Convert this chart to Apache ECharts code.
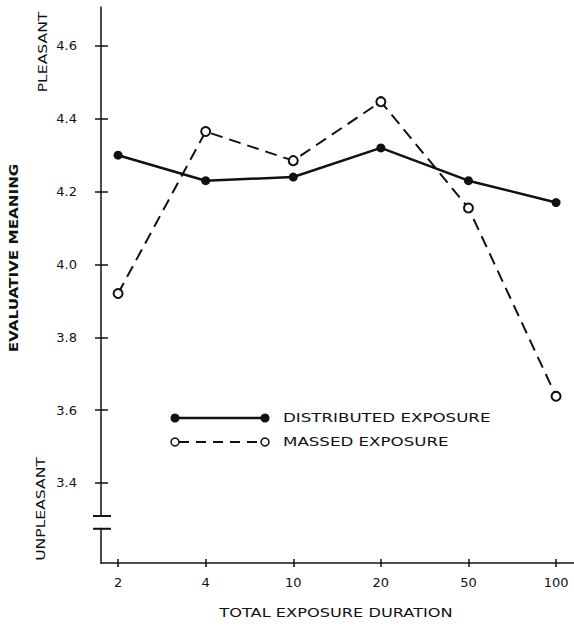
<!DOCTYPE html>
<html><head><meta charset="utf-8">
<script src="https://cdn.jsdelivr.net/npm/echarts@6/dist/echarts.min.js"></script>
<style>html,body{margin:0;padding:0;background:#fff;} #c{width:574px;height:626px;}</style>
</head><body><div id="c"></div>
<script>
const categories = ['2', '4', '10', '20', '50', '100'];
const distributed = [4.30, 4.23, 4.24, 4.32, 4.23, 4.17];
const massed = [3.92, 4.365, 4.285, 4.447, 4.155, 3.638];
const yTicks = [3.4, 3.6, 3.8, 4.0, 4.2, 4.4, 4.6];
const seriesNames = ['DISTRIBUTED EXPOSURE', 'MASSED EXPOSURE'];
const xTitle = 'TOTAL EXPOSURE DURATION';
const yTitle = 'EVALUATIVE MEANING';
const yTopNote = 'PLEASANT';
const yBottomNote = 'UNPLEASANT';

const ink = '#111';
const font = 'DejaVu Sans';
const xIdx = categories.map((_, i) => i);
const X_MIN = -0.195, X_MAX = 5.205, Y_MIN = 3.18, Y_MAX = 4.707;

const chart = echarts.init(document.getElementById('c'), null, {renderer: 'svg'});

const xBase = {type: 'value', min: X_MIN, max: X_MAX, position: 'bottom', splitLine: {show: false}};
const yBase = {type: 'value', min: Y_MIN, max: Y_MAX, position: 'left', splitLine: {show: false}};

chart.setOption({
  animation: false,
  backgroundColor: '#fff',
  grid: {left: 101, right: 0, top: 7, bottom: 63, containLabel: false},
  xAxis: [
    Object.assign({}, xBase, {
      axisLine: {show: true, onZero: false, lineStyle: {color: ink, width: 1.5}},
      axisTick: {show: true, inside: false, length: 4, customValues: xIdx, lineStyle: {color: ink, width: 1.5}},
      axisLabel: {show: true, customValues: xIdx, margin: 13, color: ink, fontFamily: font, fontSize: 13,
        formatter: v => categories[Math.round(v)]}
    }),
    Object.assign({}, xBase, {
      axisLine: {show: false, onZero: false},
      axisTick: {show: true, inside: true, length: 4, customValues: xIdx, lineStyle: {color: ink, width: 1.5}},
      axisLabel: {show: false}
    })
  ],
  yAxis: [
    Object.assign({}, yBase, {
      axisLine: {show: true, onZero: false, lineStyle: {color: ink, width: 1.5}},
      axisTick: {show: true, inside: false, length: 6, customValues: yTicks, lineStyle: {color: ink, width: 1.5}},
      axisLabel: {show: true, customValues: yTicks, margin: 24, color: ink, fontFamily: font, fontSize: 13,
        formatter: v => v.toFixed(1)}
    }),
    Object.assign({}, yBase, {
      axisLine: {show: false, onZero: false},
      axisTick: {show: true, inside: true, length: 7, customValues: yTicks, lineStyle: {color: ink, width: 1.5}},
      axisLabel: {show: false}
    })
  ],
  series: [
    {
      name: seriesNames[0], type: 'line', xAxisIndex: 0, yAxisIndex: 0,
      data: distributed.map((v, i) => [i, v]),
      symbol: 'circle', symbolSize: 9,
      itemStyle: {color: ink},
      lineStyle: {color: ink, width: 2.5},
      z: 3
    },
    {
      name: seriesNames[1], type: 'line', xAxisIndex: 0, yAxisIndex: 0,
      data: massed.map((v, i) => [i, v]),
      symbol: 'emptyCircle', symbolSize: 9,
      itemStyle: {color: ink, borderWidth: 1.5},
      lineStyle: {color: ink, width: 2, type: [12, 7]},
      z: 4
    }
  ]
});

// decorations: axis break marks, titles, legend
const axX = chart.convertToPixel({xAxisIndex: 0}, X_MIN);
const b1 = chart.convertToPixel({yAxisIndex: 0}, 3.309);
const b2 = chart.convertToPixel({yAxisIndex: 0}, 3.274);

function vtext(txt, x, y, size, weight, sx) {
  return {type: 'text', x: x, y: y, rotation: Math.PI / 2, scaleX: sx,
    style: {text: txt, fill: ink, font: weight + ' ' + size + 'px "' + font + '"', textAlign: 'center', textVerticalAlign: 'middle'}};
}

const legY = [418, 442];
const legX1 = 175, legX2 = 265, legTextX = 283;

chart.setOption({
  graphic: [
    {type: 'rect', shape: {x: axX - 3, y: b1 + 1, width: 6, height: b2 - b1 - 2}, style: {fill: '#fff'}, z: 10},
    {type: 'line', shape: {x1: axX - 8, y1: b1, x2: axX + 10, y2: b1}, style: {stroke: ink, lineWidth: 2}, z: 11},
    {type: 'line', shape: {x1: axX - 8, y1: b2, x2: axX + 10, y2: b2}, style: {stroke: ink, lineWidth: 2}, z: 11},
    vtext(yTopNote, 42, 52, 13, 'normal', 1.2),
    vtext(yTitle, 13, 258, 13, 'bold', 1.17),
    vtext(yBottomNote, 40, 509, 13, 'normal', 1.2),
    {type: 'text', x: 336, y: 613, scaleX: 1.35,
      style: {text: xTitle, fill: ink, font: 'normal 12px "' + font + '"', textAlign: 'center', textVerticalAlign: 'middle'}},
    // legend
    {type: 'line', shape: {x1: legX1, y1: legY[0], x2: legX2, y2: legY[0]}, style: {stroke: ink, lineWidth: 2.5}},
    {type: 'circle', shape: {cx: legX1, cy: legY[0], r: 4.5}, style: {fill: ink}},
    {type: 'circle', shape: {cx: legX2, cy: legY[0], r: 4.5}, style: {fill: ink}},
    {type: 'text', x: legTextX, y: legY[0], scaleX: 1.39,
      style: {text: seriesNames[0], fill: ink, font: 'normal 12px "' + font + '"', textAlign: 'left', textVerticalAlign: 'middle'}},
    {type: 'line', shape: {x1: legX1 + 4, y1: legY[1], x2: legX2 - 4, y2: legY[1]}, style: {stroke: ink, lineWidth: 2, lineDash: [10, 7]}},
    {type: 'circle', shape: {cx: legX1, cy: legY[1], r: 4}, style: {fill: '#fff', stroke: ink, lineWidth: 1.5}},
    {type: 'circle', shape: {cx: legX2, cy: legY[1], r: 4}, style: {fill: '#fff', stroke: ink, lineWidth: 1.5}},
    {type: 'text', x: legTextX, y: legY[1], scaleX: 1.39,
      style: {text: seriesNames[1], fill: ink, font: 'normal 12px "' + font + '"', textAlign: 'left', textVerticalAlign: 'middle'}}
  ]
});
</script>
</body></html>
